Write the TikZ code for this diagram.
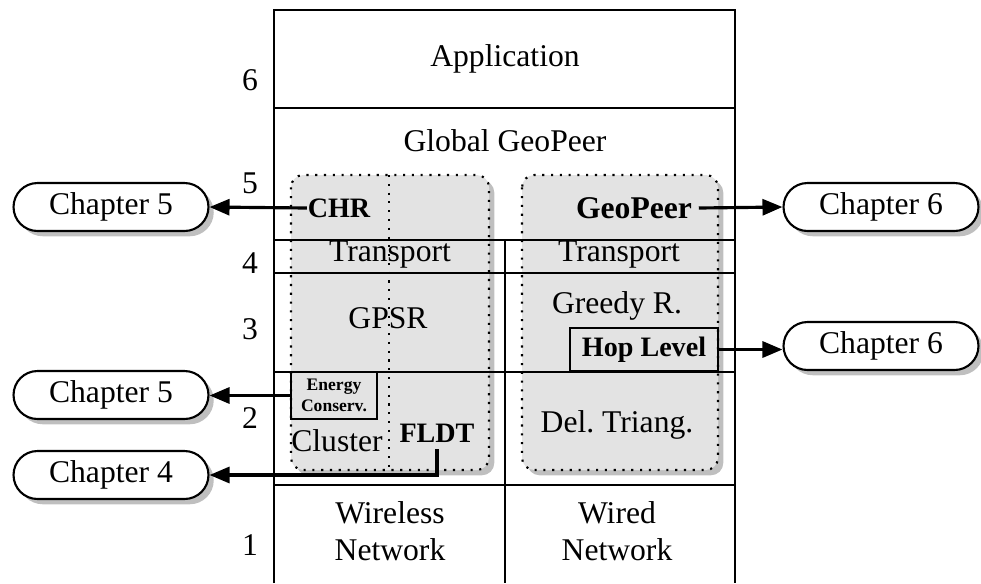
\documentclass[tikz,border=0pt]{standalone}
\usepackage{fontspec}
\setmainfont{Liberation Serif}
\usetikzlibrary{arrows.meta,shapes.misc,shadows}

\tikzset{
	layer/.style={fill=gray!22, rounded corners=7pt, line width=1.2pt, dash pattern=on 1.2pt off 3.8pt,
		drop shadow={shadow xshift=3pt, shadow yshift=-3pt, opacity=0.5}},
	chapter/.style={draw, rounded rectangle, fill=white, line width=1.2pt, minimum width=3.9cm, minimum height=0.96cm,
		inner sep=0pt, drop shadow={shadow xshift=3pt, shadow yshift=-3pt, opacity=0.5}},
	tag/.style={font=\fontsize{16}{18}\selectfont\bfseries},
	link/.style={-{Triangle[length=0.4cm,width=0.32cm]}, line width=1.8pt}
}

\begin{document}
\begin{tikzpicture}[x=0.02cm, y=-0.02cm, line width=1.1pt,
		every node/.style={font=\fontsize{18}{21}\selectfont}]
	\useasboundingbox (0,0) rectangle (981,583);

	% grey protocol blocks
	\draw[layer] (291,175) rectangle (489,470);
	\draw[layer] (522,175) rectangle (718,470);
	\draw[line width=1.2pt, dash pattern=on 1.2pt off 3.8pt] (389,175) -- (389,470);

	% the stack
	\draw (274,583) -- (274,10) -- (735,10) -- (735,583);
	\draw (274,108) -- (735,108);
	\draw (274,240) -- (735,240);
	\draw (274,273) -- (735,273);
	\draw (274,372) -- (735,372);
	\draw (274,485) -- (735,485);
	\draw (505,240) -- (505,583);

	\foreach \n/\y in {6/80,5/183,4/263,3/329,2/418,1/545}
		\node (row\n) at (250,\y) {\n};

	\node (app) at (505,59) {Application};
	\node (global) at (505,141) {Global GeoPeer};
	\node[tag, inner sep=0pt] (chr) at (339,208) {CHR};
	\node[tag, font=\fontsize{18}{20}\selectfont\bfseries] (geopeer) at (634,208) {GeoPeer};
	\node (transl) at (390,255) {Transport};
	\node (transr) at (619,255) {Transport};
	\node (gpsr) at (388,318) {GPSR};
	\node (greedy) at (617,306) {Greedy R.};
	\node[tag, draw, minimum width=2.96cm, minimum height=0.86cm] (hop) at (644,349.5) {Hop Level};
	\node[draw, font=\fontsize{10}{12}\selectfont\bfseries, align=center, minimum width=1.72cm, minimum height=0.94cm,
		inner sep=0pt] (energy) at (334,395.5) {Energy\\Conserv.};
	\node (cluster) at (337,441) {Cluster};
	\node[tag] (fldt) at (437,433) {FLDT};
	\node (deltri) at (617,425) {Del.\ Triang.};
	\node[align=center] (wireless) at (390,531) {Wireless\\Network};
	\node[align=center] (wired) at (617,531) {Wired\\Network};

	% chapter references
	\node[chapter] (ch5a) at (111,207) {Chapter 5};
	\node[chapter] (ch5b) at (111,395) {Chapter 5};
	\node[chapter] (ch4) at (111,475) {Chapter 4};
	\node[chapter] (ch6a) at (881,207) {Chapter 6};
	\node[chapter] (ch6b) at (881,346) {Chapter 6};

	\draw[link] (chr.west) -- (ch5a.east);
	\draw[link] (geopeer.east) -- (ch6a.west);
	\draw[link] (hop.east) -- (hop.east -| ch6b.west);
	\draw[link] (energy.west) -- (energy.west -| ch5b.east);
	\draw[link] (fldt.south) |- (ch4.east);
\end{tikzpicture}
\end{document}
